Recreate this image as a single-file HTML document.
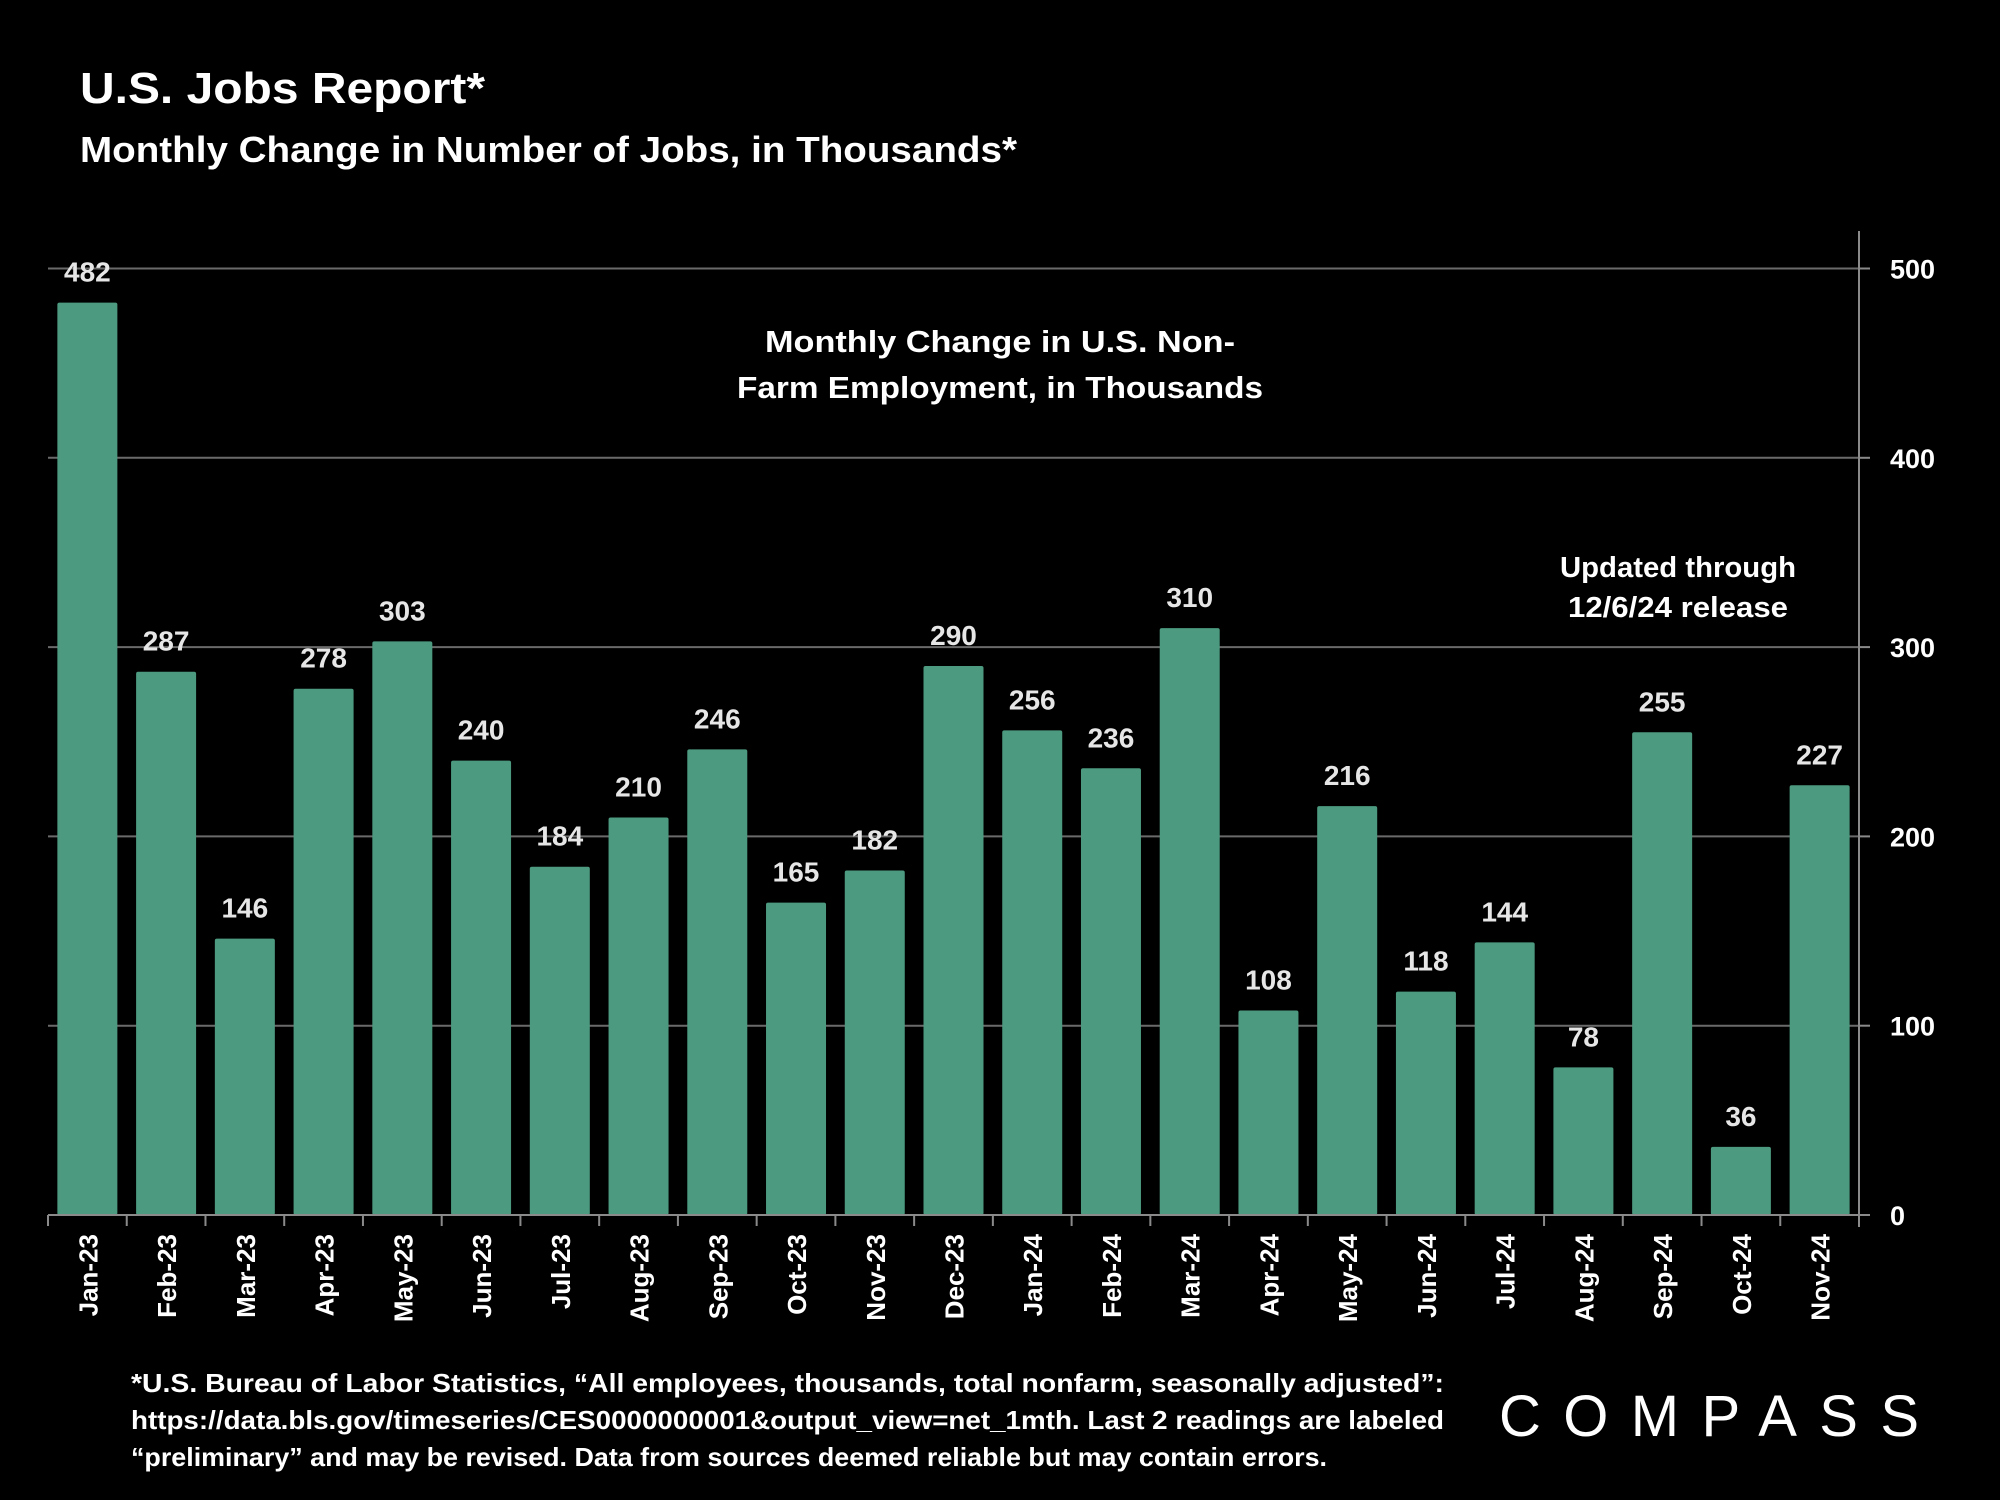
<!DOCTYPE html>
<html><head><meta charset="utf-8"><style>
html,body{margin:0;padding:0;background:#000;width:2000px;height:1500px;overflow:hidden}
svg{display:block;font-family:"Liberation Sans",sans-serif;font-weight:bold}
</style></head><body>
<svg id="chart" width="2000" height="1500" viewBox="0 0 2000 1500">
<text x="80" y="103" font-size="44" fill="#fff" textLength="405" lengthAdjust="spacingAndGlyphs">U.S. Jobs Report*</text>
<text x="80" y="162" font-size="36" fill="#fff" textLength="937" lengthAdjust="spacingAndGlyphs">Monthly Change in Number of Jobs, in Thousands*</text>
<g id="grid"></g>
<g id="bars"></g>
<g id="axes"></g>
<text x="1000" y="352" font-size="31" fill="#fff" text-anchor="middle" textLength="470" lengthAdjust="spacingAndGlyphs">Monthly Change in U.S. Non-</text>
<text x="1000" y="398" font-size="31" fill="#fff" text-anchor="middle" textLength="526" lengthAdjust="spacingAndGlyphs">Farm Employment, in Thousands</text>
<text x="1678" y="577" font-size="29" fill="#fff" text-anchor="middle" textLength="236" lengthAdjust="spacingAndGlyphs">Updated through</text>
<text x="1678" y="617" font-size="29" fill="#fff" text-anchor="middle" textLength="220" lengthAdjust="spacingAndGlyphs">12/6/24 release</text>
<g fill="#fff" font-size="26">
<text x="131" y="1392" textLength="1313" lengthAdjust="spacingAndGlyphs">*U.S. Bureau of Labor Statistics, “All employees, thousands, total nonfarm, seasonally adjusted”:</text>
<text x="131" y="1429" textLength="1313" lengthAdjust="spacingAndGlyphs">https://data.bls.gov/timeseries/CES0000000001&amp;output_view=net_1mth. Last 2 readings are labeled</text>
<text x="131" y="1466" textLength="1196" lengthAdjust="spacingAndGlyphs">“preliminary” and may be revised. Data from sources deemed reliable but may contain errors.</text>
</g>
<text x="1499" y="1436" font-size="58" font-weight="normal" fill="#fff" textLength="420" lengthAdjust="spacing">COMPASS</text>
</svg>
<script>
const categories=["Jan-23","Feb-23","Mar-23","Apr-23","May-23","Jun-23","Jul-23","Aug-23","Sep-23","Oct-23","Nov-23","Dec-23","Jan-24","Feb-24","Mar-24","Apr-24","May-24","Jun-24","Jul-24","Aug-24","Sep-24","Oct-24","Nov-24"];
const values=[482,287,146,278,303,240,184,210,246,165,182,290,256,236,310,108,216,118,144,78,255,36,227];
const yTicks=[0,100,200,300,400,500];
const NS="http://www.w3.org/2000/svg";
const X0=48,X1=1859,Y0=1215,PER100=189.3;
const bw=(X1-X0)/categories.length;
function y(v){return Y0-v*PER100/100;}
function xc(i){return X0+bw*(i+0.5);}
function mk(tag,attrs,parent){const e=document.createElementNS(NS,tag);for(const k in attrs)e.setAttribute(k,attrs[k]);parent.appendChild(e);return e;}
const grid=document.getElementById('grid'),bars=document.getElementById('bars'),axes=document.getElementById('axes');
yTicks.forEach(t=>{
  if(t>0){const l=mk('line',{x1:X0,x2:X1,y1:y(t),y2:y(t),stroke:'#6a6a6a','stroke-width':2},grid);
  
  }
  const tk=mk('line',{x1:X1,x2:X1+11,y1:y(t),y2:y(t),stroke:'#8a8a8a','stroke-width':2},axes);
  
  
  const tx=mk('text',{x:1890,y:y(t)+10,'font-size':27,fill:'#fff'},axes);
  tx.textContent=t;
  
  
});
const ax=mk('line',{x1:X1,x2:X1,y1:231,y2:Y0+12,stroke:'#8a8a8a','stroke-width':2},axes);


const xa=mk('line',{x1:X0,x2:X1,y1:Y0,y2:Y0,stroke:'#8a8a8a','stroke-width':2},axes);


for(let i=0;i<=categories.length;i++){
  const t=mk('line',{x1:X0+bw*i,x2:X0+bw*i,y1:Y0,y2:Y0+11,stroke:'#8a8a8a','stroke-width':2},axes);
  
  
}
categories.forEach((c,i)=>{
  const v=values[i],cx=xc(i),w=60;
  const r=mk('rect',{x:cx-w/2,y:y(v),width:w,height:Y0-y(v),fill:'#4c9a80',rx:2},bars);
  
  
  const lb=mk('text',{x:cx,y:y(v)-21,'font-size':28,fill:'#e6e6e6','text-anchor':'middle'},bars);
  lb.textContent=v;
  
  
  const ml=mk('text',{x:0,y:0,'font-size':26,fill:'#fff','text-anchor':'end',transform:`translate(${cx+10},1234) rotate(-90)`},axes);
  ml.textContent=c;
  
  
});
</script>
</body></html>
